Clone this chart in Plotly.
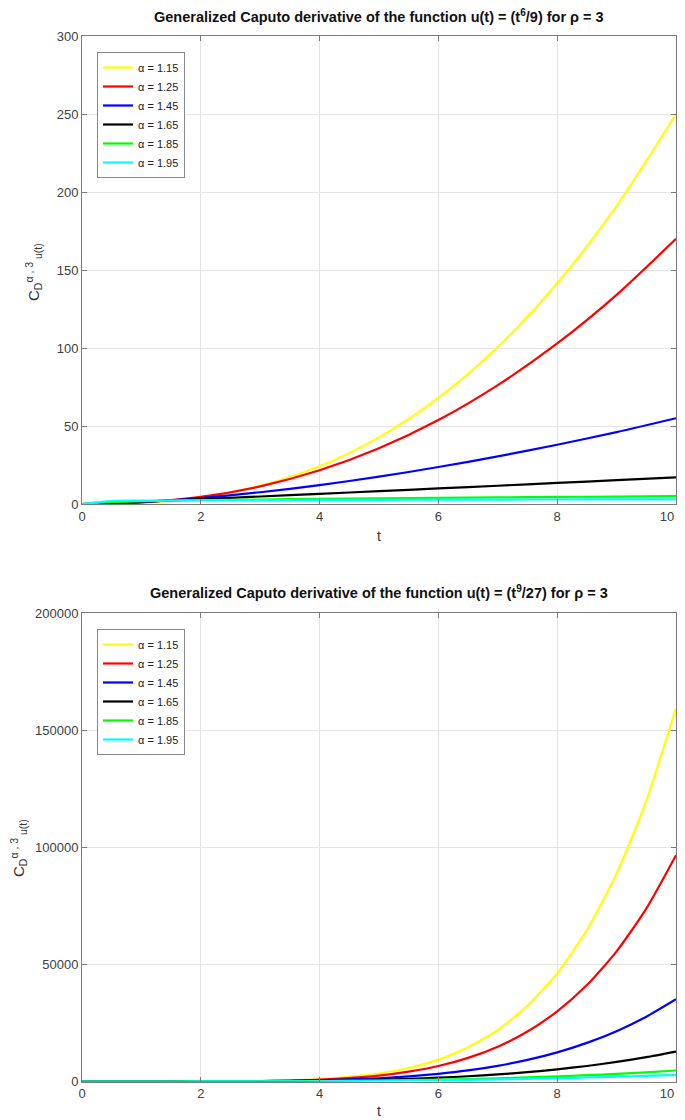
import plotly.graph_objects as go

# ---------------- data ----------------
alphas = ["α = 1.15", "α = 1.25", "α = 1.45", "α = 1.65", "α = 1.85", "α = 1.95"]
colors = ["#ffff00", "#ff0000", "#0000ff", "#000000", "#00ff00", "#00ffff"]

t_top = [0, 0.5, 1, 2, 3, 4, 5, 6, 7, 8, 9, 10]
top_a115 = [0, 0.12, 0.70, 4.1, 11.6, 24.2, 42.7, 68.0, 100.6, 141.5, 191.0, 250.0]
top_a125 = [0, 0.20, 0.96, 4.55, 11.3, 21.6, 35.7, 53.8, 76.2, 102.9, 134.1, 170.0]
top_a145 = [0, 0.39, 1.23, 3.86, 7.54, 12.1, 17.5, 23.7, 30.5, 38.0, 46.1, 55.0]
top_a165 = [0, 0.73, 1.52, 3.15, 4.82, 6.51, 8.24, 9.97, 11.7, 13.5, 15.3, 17.05]
top_a185 = [0, 1.30, 1.77, 2.42, 2.90, 3.30, 3.65, 3.96, 4.25, 4.51, 4.76, 4.99]
top_a195 = [0, 1.91, 2.12, 2.35, 2.50, 2.61, 2.70, 2.77, 2.84, 2.90, 2.95, 3.00]

t_bot = [0, 1, 2, 3, 4, 5, 5.5, 6, 6.5, 7, 7.5, 8, 8.5, 9, 9.5, 10]
bot_a115 = [0, 0.45, 21, 200, 986, 3400, 5771, 9350, 14580, 21990, 32280, 46200, 64650, 88740, 119800, 159300]
bot_a125 = [0, 0.5, 20.6, 174, 787, 2538, 4188, 6610, 10070, 14850, 21330, 29940, 41160, 55550, 73790, 96600]
bot_a145 = [0, 0.79, 19.7, 130, 495, 1397, 2176, 3265, 4735, 6683, 9210, 12440, 16490, 21500, 27650, 35100]
bot_a165 = [0, 1.14, 18.9, 97.6, 313, 773, 1137, 1618, 2236, 3018, 3992, 5185, 6628, 8353, 10400, 12800]
bot_a185 = [0, 1.67, 18.2, 73.8, 199, 430, 597, 807, 1063, 1373, 1742, 2177, 2683, 3267, 3938, 4700]
bot_a195 = [0, 2.0, 17.9, 64.2, 159, 321, 434, 570, 734, 927, 1151, 1411, 1708, 2045, 2425, 2850]

top_series = [top_a115, top_a125, top_a145, top_a165, top_a185, top_a195]
bot_series = [bot_a115, bot_a125, bot_a145, bot_a165, bot_a185, bot_a195]

x_tickvals = [0, 2, 4, 6, 8, 10]
x_ticktext = ["0", "2", "4", "6", "8", "10\u00a0\u00a0\u00a0\u00a0\u00a0"]

title_top = "Generalized Caputo derivative of the function u(t) = (t<sup>6</sup>/9) for ρ = 3"
title_bot = "Generalized Caputo derivative of the function u(t) = (t<sup>9</sup>/27) for ρ = 3"
ylab = "C<sub>D</sub><sup>α , 3</sup><sub> u(t)</sub>"
xlab = "t"

# ---------------- figure ----------------
# the page body has an 8px margin, so the figure is drawn smaller and
# every position below is (page pixel - 8)
OFF = 8
W, H = 685 - OFF, 1120 - OFF
FONT = "Liberation Sans, Arial, Helvetica, sans-serif"


def px(xp):
    return (xp - OFF) / W


def py(yp):
    return 1 - (yp - OFF) / H


fig = go.Figure()

for name, col, ys in zip(alphas, colors, top_series):
    fig.add_trace(go.Scatter(x=t_top, y=ys, mode="lines", name=name,
                             line=dict(color=col, width=2.2, shape="spline", smoothing=0.8),
                             xaxis="x", yaxis="y", legend="legend"))
for name, col, ys in zip(alphas, colors, bot_series):
    fig.add_trace(go.Scatter(x=t_bot, y=ys, mode="lines", name=name,
                             line=dict(color=col, width=2.2, shape="spline", smoothing=0.6),
                             xaxis="x2", yaxis="y2", legend="legend2"))

xdom = [px(82), px(676)]
ydom_top = [py(504), py(36)]
ydom_bot = [py(1081.5), py(613)]

axis_common = dict(showline=True, linecolor="#7a7a7a", linewidth=1, mirror="ticks",
                   ticks="inside", ticklen=5, tickcolor="#7a7a7a", automargin=False,
                   ticklabeloverflow="allow",
                   showgrid=True, gridcolor="#e4e4e4", gridwidth=1, zeroline=False,
                   tickfont=dict(family=FONT, size=13, color="#404040"))

fig.update_layout(
    width=W, height=H, paper_bgcolor="white", plot_bgcolor="white",
    margin=dict(l=0, r=0, t=0, b=0, autoexpand=False),
    font=dict(family=FONT),
    xaxis=dict(domain=xdom, range=[0, 10], tickvals=x_tickvals, ticktext=x_ticktext,
               anchor="y", **axis_common),
    yaxis=dict(domain=ydom_top, range=[0, 300], dtick=50, anchor="x", **axis_common),
    xaxis2=dict(domain=xdom, range=[0, 10], tickvals=x_tickvals, ticktext=x_ticktext,
                anchor="y2", **axis_common),
    yaxis2=dict(domain=ydom_bot, range=[0, 200000], dtick=50000, tickformat="d",
                anchor="x2", **axis_common),
    legend=dict(x=px(97), y=py(52), xanchor="left", yanchor="top",
                bgcolor="white", bordercolor="#888888", borderwidth=1,
                font=dict(family=FONT, size=11, color="#222222"),
                itemwidth=30, tracegroupgap=0),
    legend2=dict(x=px(97), y=py(629), xanchor="left", yanchor="top",
                 bgcolor="white", bordercolor="#888888", borderwidth=1,
                 font=dict(family=FONT, size=11, color="#222222"),
                 itemwidth=30, tracegroupgap=0),
    showlegend=True,
)

ann = []
for ty, txt in [(16, title_top), (592, title_bot)]:
    ann.append(dict(text="<b>" + txt + "</b>", x=px(379), y=py(ty), xref="paper", yref="paper",
                    showarrow=False, xanchor="center", yanchor="middle",
                    font=dict(family=FONT, size=14.5, color="#111111")))
for ty in [536, 1111]:
    ann.append(dict(text=xlab, x=px(379), y=py(ty), xref="paper", yref="paper",
                    showarrow=False, xanchor="center", yanchor="middle",
                    font=dict(family=FONT, size=14, color="#333333")))
for xx, ty in [(34, 272), (18, 848)]:
    ann.append(dict(text=ylab, x=px(xx), y=py(ty), xref="paper", yref="paper",
                    showarrow=False, xanchor="center", yanchor="middle", textangle=-90,
                    font=dict(family=FONT, size=15, color="#333333")))
fig.update_layout(annotations=ann)

fig.write_html("out.html")
